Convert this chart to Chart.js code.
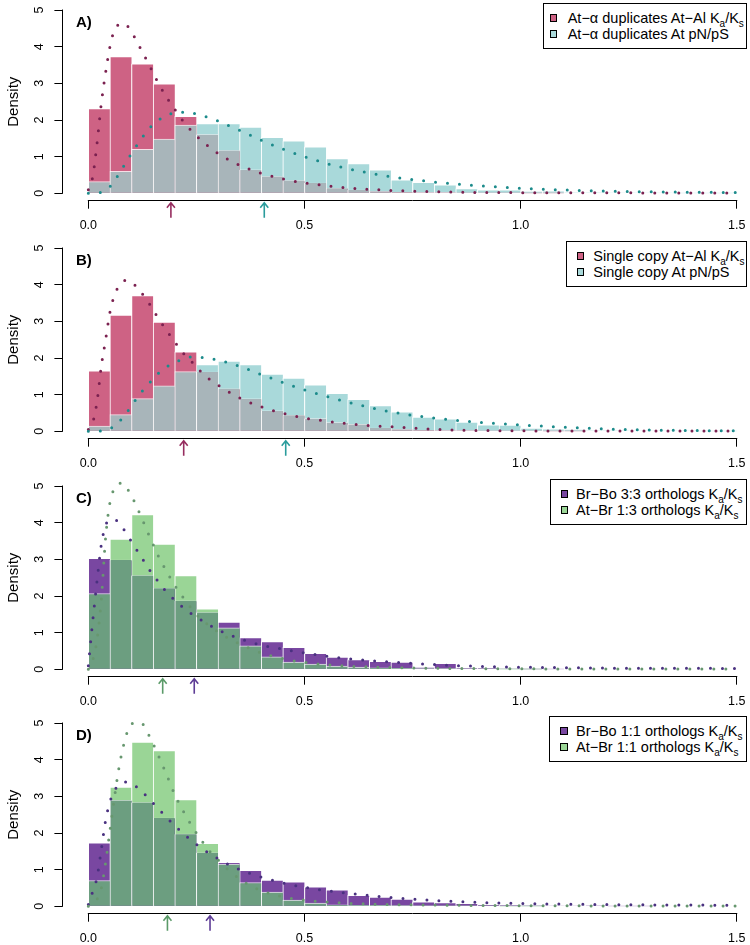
<!DOCTYPE html>
<html><head><meta charset="utf-8">
<script src="https://cdn.jsdelivr.net/npm/chart.js@4.4.1/dist/chart.umd.min.js"></script>
<style>
html,body{margin:0;padding:0;background:#fff;overflow:hidden;width:750px;height:945px;}
.panel{position:absolute;left:0;width:750px;}
.panel canvas{position:absolute;left:0;top:0;}
.lab{position:absolute;left:76px;font:bold 15px "Liberation Sans",Arial,sans-serif;color:#000;line-height:18px;white-space:nowrap;}
.leg{position:absolute;border:1px solid #000;box-sizing:border-box;background:#fff;}
.row{position:absolute;white-space:nowrap;font:14.5px "Liberation Sans",Arial,sans-serif;line-height:16px;height:16px;color:#000;}
.sq{position:absolute;width:7.5px;height:7.5px;border:1px solid #000;box-sizing:border-box;}
.sub{font-size:10px;position:relative;top:4px;}
</style></head><body>
<script>
// ---------- categories / ticks ----------
const binCenters = [0.025,0.075,0.125,0.175,0.225,0.275,0.325,0.375,0.425,0.475,0.525,0.575,0.625,0.675,0.725,0.775,0.825,0.875,0.925,0.975,1.025,1.075,1.125,1.175,1.225,1.275,1.325,1.375,1.425,1.475];
const xTicks = [0, 0.5, 1.0, 1.5];
const yTicks = [0, 1, 2, 3, 4, 5];
const densX = [0,0.01,0.02,0.03,0.04,0.05,0.06,0.07,0.08,0.09,0.10,0.12,0.14,0.16,0.18,0.20,0.22,0.24,0.26,0.28,0.30,0.33,0.36,0.40,0.45,0.50,0.55,0.60,0.65,0.70,0.80,0.90,1.00,1.10,1.20,1.30,1.40,1.50];

// ---------- Panel A ----------
const aAlKaKs = [2.31,3.73,3.53,2.99,2.10,1.60,1.17,0.64,0.46,0.35,0.28,0.14,0.09,0.05,0.03,0.02,0.02,0.01,0.01,0.01,0.005,0.005,0,0,0,0,0,0,0,0];
const aAtPnPs = [0.32,0.60,1.20,1.48,1.86,1.90,1.90,1.81,1.53,1.43,1.27,0.95,0.81,0.64,0.37,0.30,0.23,0.13,0.095,0.095,0.06,0.07,0.02,0.02,0.01,0.01,0.01,0.005,0.005,0.005];
const aDensAlKaKs = [0.1,0.45,1.35,2.45,3.3,4.0,4.45,4.6,4.64,4.57,4.4,3.97,3.52,3.05,2.64,2.29,1.96,1.69,1.46,1.26,1.09,0.88,0.72,0.545,0.395,0.285,0.21,0.15,0.11,0.08,0.045,0.025,0.02,0.018,0.015,0.013,0.01,0.01];
const aDensAtPnPs = [0,0.005,0.012,0.03,0.09,0.186,0.33,0.52,0.71,0.9,1.09,1.44,1.76,1.98,2.12,2.2,2.214,2.19,2.13,2.06,1.975,1.82,1.67,1.45,1.21,1.0,0.82,0.675,0.555,0.455,0.31,0.21,0.14,0.094,0.061,0.043,0.032,0.023];
const aMedians = [0.191, 0.407];
const aLegend = ["At−α duplicates At−Al Ka/Ks", "At−α duplicates At pN/pS"];

// ---------- Panel B ----------
const bAlKaKs = [1.65,3.17,3.70,2.98,2.17,1.62,1.16,0.885,0.557,0.438,0.347,0.237,0.19,0.09,0.05,0.03,0.02,0.02,0.01,0.01,0.01,0.005,0.005,0,0,0,0,0,0,0];
const bAtPnPs = [0.146,0.456,0.894,1.24,1.63,1.82,1.92,1.82,1.56,1.45,1.27,1.04,0.876,0.70,0.53,0.39,0.34,0.25,0.18,0.17,0.09,0.07,0.05,0.02,0.02,0.01,0.01,0.01,0.005,0.005];
const bDensAlKaKs = [0.05,0.24,0.8,1.78,2.5,3.25,3.7,3.95,4.09,4.12,4.07,3.82,3.5,3.12,2.77,2.44,2.13,1.89,1.63,1.42,1.26,1.04,0.855,0.67,0.495,0.365,0.28,0.208,0.16,0.127,0.056,0.025,0.015,0.012,0.01,0.01,0.008,0.008];
const bDensAtPnPs = [0,0,0,0.01,0.03,0.07,0.15,0.25,0.38,0.53,0.7,1.03,1.3,1.56,1.75,1.88,1.97,2.03,2.02,1.99,1.945,1.85,1.735,1.55,1.335,1.13,0.955,0.8,0.655,0.53,0.365,0.25,0.177,0.113,0.065,0.039,0.022,0.018];
const bMedians = [0.2206, 0.4566];
const bLegend = ["Single copy At−Al Ka/Ks", "Single copy At pN/pS"];

// ---------- Panel C ----------
const cBrBo33 = [3.03,2.98,2.56,2.21,1.87,1.55,1.29,0.87,0.755,0.60,0.436,0.336,0.27,0.22,0.20,0.055,0.164,0.036,0.036,0.01,0.005,0.005,0,0,0,0,0,0,0,0];
const cAtBr13 = [2.07,3.55,4.22,3.42,2.56,1.65,1.13,0.64,0.345,0.20,0.145,0.09,0.06,0.04,0.03,0.02,0.02,0.01,0.01,0.005,0.005,0,0,0,0,0,0,0,0,0];
const cDensBrBo33 = [0.1,1.3,2.4,3.4,3.93,4.08,4.1,4.0,3.85,3.67,3.48,3.11,2.74,2.42,2.12,1.89,1.68,1.5,1.35,1.21,1.08,0.925,0.8,0.66,0.55,0.45,0.36,0.29,0.24,0.2,0.13,0.085,0.06,0.045,0.035,0.03,0.03,0.025];
const cDensAtBr13 = [0,0.25,0.8,1.9,3.6,4.55,4.93,5.07,5.08,4.93,4.73,4.22,3.67,3.14,2.69,2.29,1.95,1.64,1.38,1.19,1.02,0.81,0.64,0.45,0.29,0.19,0.13,0.09,0.065,0.05,0.03,0.02,0.015,0.012,0.01,0.01,0.01,0.01];
const cMedians = [0.245, 0.172];
const cLegend = ["Br−Bo 3:3 orthologs Ka/Ks", "At−Br 1:3 orthologs Ka/Ks"];

// ---------- Panel D ----------
const dBrBo11 = [1.73,2.89,2.83,2.41,1.97,1.46,1.20,0.985,0.714,0.67,0.533,0.45,0.30,0.25,0.20,0.127,0.10,0.08,0.045,0.03,0.02,0.01,0.01,0.02,0.005,0.005,0,0,0,0];
const dAtBr11 = [0.705,3.25,4.48,4.25,2.91,1.72,1.15,0.65,0.39,0.17,0.09,0.045,0.03,0.03,0.02,0.015,0.01,0.01,0.01,0.005,0.005,0,0,0,0,0,0,0,0,0];
const dDensBrBo11 = [0.05,0.4,0.78,1.55,2.35,2.85,3.15,3.3,3.38,3.39,3.35,3.18,2.94,2.69,2.44,2.2,1.98,1.78,1.6,1.44,1.3,1.11,0.96,0.8,0.64,0.52,0.43,0.36,0.3,0.24,0.16,0.11,0.08,0.06,0.05,0.04,0.035,0.03];
const dDensAtBr11 = [0,0.06,0.19,0.5,1.2,2.07,2.93,3.72,4.32,4.75,4.98,5.02,4.67,4.17,3.62,3.05,2.59,2.18,1.83,1.51,1.27,0.93,0.67,0.43,0.26,0.17,0.12,0.085,0.065,0.05,0.035,0.025,0.02,0.015,0.012,0.01,0.01,0.01];
const dMedians = [0.2815, 0.183];
const dLegend = ["Br−Bo 1:1 orthologs Ka/Ks", "At−Br 1:1 orthologs Ka/Ks"];

const panelLetters = ["A)", "B)", "C)", "D)"];

// ---------- styles / layout ----------
const FONT = '"Liberation Sans", Arial, sans-serif';
const pinkTeal = {only1:'#CE6284', only2:'#A9D9DA', both:'#A8B5BA', dot1:'#7B2150', dot2:'#1C8B8B', arrow1:'#962D5F', arrow2:'#2A9C9C'};
const purpleGreen = {only1:'#7947A1', only2:'#9AD596', both:'#6C9E80', dot1:'#4A3180', dot2:'#67976F', arrow1:'#5E3D96', arrow2:'#5A9A68'};
const PANEL_TOPS = [0, 238, 476, 713];
const PANEL_HEIGHTS = [238, 238, 237, 232];
const PLOT = {left: 62.4, right: 746.7, top: 2.7, bottom: 200.7};
const LEGEND_LEFT = [543.3, 565.7, 550, 549.3];
const LEGEND_SQ = [10.4, 15, 14.5, 14.7];
const LEGEND_TXT = [24.4, 27.6, 26, 26.7];

const panels = [
  {s1:aAlKaKs, s2:aAtPnPs, d1:aDensAlKaKs, d2:aDensAtPnPs, med:aMedians, legend:aLegend, col:pinkTeal},
  {s1:bAlKaKs, s2:bAtPnPs, d1:bDensAlKaKs, d2:bDensAtPnPs, med:bMedians, legend:bLegend, col:pinkTeal},
  {s1:cBrBo33, s2:cAtBr13, d1:cDensBrBo33, d2:cDensAtBr13, med:cMedians, legend:cLegend, col:purpleGreen},
  {s1:dBrBo11, s2:dAtBr11, d1:dDensBrBo11, d2:dDensAtBr11, med:dMedians, legend:dLegend, col:purpleGreen}
];

Chart.defaults.font.family = FONT;
Chart.defaults.color = '#000';

function legendHTML(t){ return t.replace('Ka/Ks','K<span class="sub">a</span>/K<span class="sub">s</span>'); }

function makePlugin(p){
  return {
    id: 'rAxes',
    afterDraw(chart){
      const {ctx, chartArea: ca, scales: {x, y}} = chart;
      const al = v => Math.round(v - 0.5) + 0.5;
      ctx.save();
      ctx.strokeStyle = '#000'; ctx.lineWidth = 1;
      ctx.beginPath();
      const ax = al(ca.left);
      ctx.moveTo(ax, y.getPixelForValue(yTicks[0]) + 0.5);
      ctx.lineTo(ax, y.getPixelForValue(yTicks[yTicks.length-1]) - 0.5);
      const ay = al(ca.bottom);
      ctx.moveTo(x.getPixelForValue(xTicks[0]) - 0.5, ay);
      ctx.lineTo(x.getPixelForValue(xTicks[xTicks.length-1]) + 0.5, ay);
      ctx.stroke();
      const cols = [p.col.arrow1, p.col.arrow2];
      p.med.forEach((v, i) => {
        const px = x.getPixelForValue(v);
        const tip = ca.bottom + 2, tail = tip + 15;
        ctx.strokeStyle = cols[i]; ctx.lineWidth = 1.6;
        ctx.beginPath();
        ctx.moveTo(px, tail); ctx.lineTo(px, tip);
        ctx.moveTo(px - 4, tip + 5); ctx.lineTo(px, tip); ctx.lineTo(px + 4, tip + 5);
        ctx.stroke();
      });
      ctx.restore();
    }
  };
}

panels.forEach((p, k) => {
  const H = PANEL_HEIGHTS[k];
  const div = document.createElement('div');
  div.className = 'panel';
  div.style.top = PANEL_TOPS[k] + 'px';
  div.style.height = H + 'px';
  const cv = document.createElement('canvas');
  cv.width = 750; cv.height = H;
  cv.style.width = '750px'; cv.style.height = H + 'px';
  div.appendChild(cv);
  document.body.appendChild(div);

  const overlap = p.s1.map((v, i) => Math.min(v, p.s2[i]));
  const barBase = {type:'bar', grouped:false, categoryPercentage:1, barPercentage:1, borderColor:'#fff', borderSkipped:'start'};
  const pts = arr => arr.map((v, i) => ({x: binCenters[i], y: v}));
  const crv = arr => arr.map((v, i) => ({x: densX[i], y: v}));
  const lineBase = {type:'line', pointRadius:0, borderWidth:3, borderDash:[0, 12], borderCapStyle:'round', cubicInterpolationMode:'monotone', fill:false};

  new Chart(cv, {
    type: 'bar',
    data: {
      datasets: [
        Object.assign({}, barBase, {label:'s1', data:pts(p.s1), backgroundColor:p.col.only1, borderWidth:{left:1,right:0,top:1,bottom:0}, order:3}),
        Object.assign({}, barBase, {label:'s2', data:pts(p.s2), backgroundColor:p.col.only2, borderWidth:{left:1,right:0,top:1,bottom:0}, order:3}),
        Object.assign({}, barBase, {label:'both', data:pts(overlap), backgroundColor:p.col.both, borderColor:'rgba(255,255,255,0.8)',
          borderWidth: ctx => { const i = ctx.dataIndex; const top = (i !== undefined && p.s2[i] < p.s1[i]) ? 1 : 0; return {left:1,right:0,top:top,bottom:0}; }, order:2}),
        Object.assign({}, lineBase, {label:'d1', data:crv(p.d1), borderColor:p.col.dot1, order:1}),
        Object.assign({}, lineBase, {label:'d2', data:crv(p.d2), borderColor:p.col.dot2, order:0})
      ]
    },
    options: {
      responsive:false, animation:false, events:[],
      layout:{padding:{top:PLOT.top, right:750-PLOT.right, left:0, bottom:0}},
      plugins:{legend:{display:false}, tooltip:{enabled:false}, title:{display:false}},
      scales:{
        x:{type:'linear', min:-0.06, max:1.523, offset:false,
          afterBuildTicks: s => { s.ticks = xTicks.map(v => ({value:v})); },
          afterFit: s => { s.height = H - PLOT.bottom; s.paddingLeft = 0; s.paddingRight = 0; },
          ticks:{autoSkip:false, maxRotation:0, minRotation:0, padding:9.4, font:{size:12.5}, color:'#000', callback: v => Number(v).toFixed(1)},
          grid:{drawOnChartArea:false, drawTicks:true, tickLength:8, color:'#000', offset:false},
          border:{display:false}},
        y:{type:'linear', min:-0.2, max:5.2,
          afterBuildTicks: s => { s.ticks = yTicks.map(v => ({value:v})); },
          afterFit: s => { s.width = PLOT.left; s.paddingTop = 0; s.paddingBottom = 0; },
          ticks:{autoSkip:false, minRotation:90, maxRotation:90, crossAlign:'center', padding:11.7, font:{size:12.5}, color:'#000', callback: v => String(v)},
          grid:{drawOnChartArea:false, drawTicks:true, tickLength:8, color:'#000'},
          border:{display:false},
          title:{display:true, text:'Density', font:{size:15}, color:'#000', padding:{top:5, bottom:0}}}
      }
    },
    plugins:[makePlugin(p)]
  });

  // panel letter
  const lab = document.createElement('div');
  lab.className = 'lab';
  lab.style.top = (PANEL_TOPS[k] + 12.8) + 'px';
  lab.textContent = panelLetters[k];
  document.body.appendChild(lab);

  // legend
  const leg = document.createElement('div');
  leg.className = 'leg';
  const L = LEGEND_LEFT[k];
  leg.style.left = L + 'px';
  leg.style.top = (PANEL_TOPS[k] + PLOT.top) + 'px';
  leg.style.width = (PLOT.right - L) + 'px';
  leg.style.height = '46px';
  const fills = [p.col.only1, p.col.only2];
  [15.5, 31.5].forEach((cy, r) => {
    const sq = document.createElement('div');
    sq.className = 'sq';
    sq.style.left = (LEGEND_SQ[k] - 3.75 - 1) + 'px';
    sq.style.top = (cy - 3.75 - 1) + 'px';
    sq.style.background = fills[r];
    leg.appendChild(sq);
    const row = document.createElement('div');
    row.className = 'row';
    row.style.left = (LEGEND_TXT[k] - 1) + 'px';
    row.style.top = (cy - 7.8 - 1) + 'px';
    row.innerHTML = legendHTML(p.legend[r]);
    leg.appendChild(row);
  });
  document.body.appendChild(leg);
});
</script>
</body></html>
